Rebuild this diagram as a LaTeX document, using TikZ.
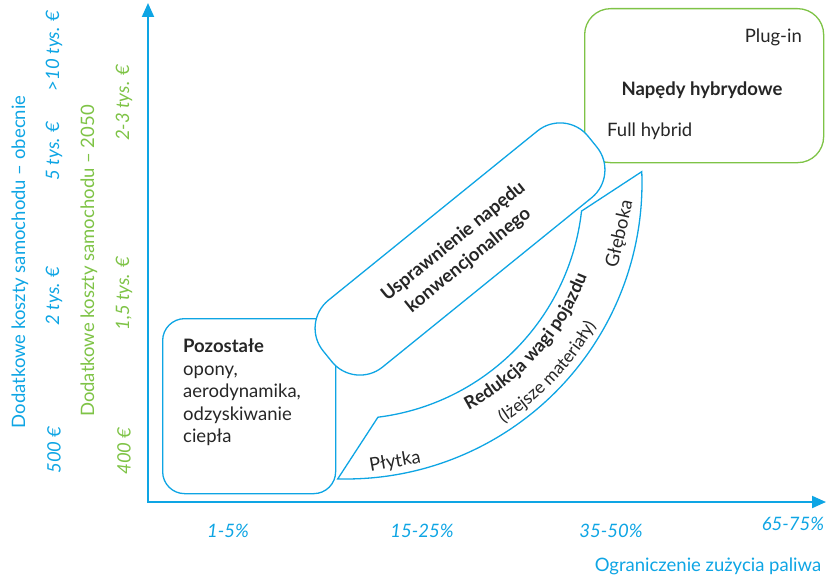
\documentclass[tikz,border=0pt]{standalone}
\usepackage{fontspec}
\setmainfont{Lato}
\usetikzlibrary{arrows.meta,decorations.text}
\definecolor{cblue}{RGB}{14,165,228}
\definecolor{cgreen}{RGB}{126,195,70}
\definecolor{ctext}{RGB}{38,38,38}
\begin{document}
\begin{tikzpicture}[x=1pt,y=1pt,
  lbl/.style={font=\fontsize{18.5}{22.5}\selectfont, text=ctext, inner sep=0pt},
  blbl/.style={lbl, font=\fontsize{18.5}{24}\selectfont\bfseries},
  bluelbl/.style={lbl, text=cblue},
  greenlbl/.style={lbl, text=cgreen},
  bval/.style={bluelbl, font=\fontsize{18.5}{22}\selectfont\itshape},
  gval/.style={greenlbl, font=\fontsize{18.5}{22}\selectfont\itshape},
  bshape/.style={draw=cblue, line width=1.3pt, fill=white},
  gshape/.style={draw=cgreen, line width=1.3pt, fill=white},
  axisline/.style={draw=cblue, line width=2pt, {Triangle[length=14pt,width=12pt]}-{Triangle[length=14pt,width=12pt]}},
  arctext/.style={decorate, decoration={text along path, text align=center, text={#1}}}
]
\useasboundingbox (0,0) rectangle (826,-578);

% axes
\coordinate (ytop) at (148,-3);
\coordinate (O) at (148,-502);
\coordinate (xend) at (826,-502);
\draw[axisline] (ytop) -- (O) -- (xend);

% hybrid box
\node[gshape, rounded corners=26pt, minimum width=239pt, minimum height=154pt, anchor=north west, inner sep=0pt] (hyb) at (584,-8) {};
\node[lbl, anchor=base east] (plug) at (802,-43) {Plug-in};
\node[blbl, anchor=base] (hybt) at (702,-95) {Napędy hybrydowe};
\node[lbl, anchor=base west] (full) at (607,-136) {Full hybrid};

% other measures box
\node[bshape, rounded corners=22pt, minimum width=173pt, minimum height=175pt, anchor=north west, inner sep=0pt] (poz) at (162,-318) {};
\node[lbl, anchor=north west, align=left] (pozt) at (183,-339) {\textbf{Pozostałe}\\opony,\\aerodynamika,\\odzyskiwanie\\ciepła};

% weight reduction band
\coordinate (oc) at (346,-183);
\coordinate (ic) at (349,-185);
\draw[bshape] ([shift={(oc)}]-91.6:296) arc[start angle=-91.6, end angle=2.2, radius=296]
  -- ([shift={(ic)}]-6.4:234) arc[start angle=-6.4, end angle=-82.9, radius=234] -- cycle;
\path[arctext={|\fontsize{18}{22}\selectfont\bfseries\color{ctext}|Redukcja wagi pojazdu}]
  ([shift={(ic)}]-76.5:255) arc[start angle=-76.5, end angle=-6.5, radius=255];
\path[arctext={|\fontsize{17.5}{22}\selectfont\color{ctext}|(lżejsze materiały)}]
  ([shift={(ic)}]-78:284) arc[start angle=-78, end angle=-8.6, radius=284];
\node[lbl, rotate=10] (ply) at (395,-462) {Płytka};
\node[lbl, rotate=77] (gle) at (620,-234) {Głęboka};

% conventional drive box
\node[bshape, rounded corners=36pt, minimum width=341pt, minimum height=86pt, rotate=39, inner sep=0pt] (usp) at (460,-249) {};
\node[blbl, rotate=39, align=center] (uspt) at (461,-251) {Usprawnienie napędu\\konwencjonalnego};

% x axis labels
\node[bval] (x1) at (228,-531) {1-5\%};
\node[bval] (x2) at (422,-531) {15-25\%};
\node[bval] (x3) at (611,-531) {35-50\%};
\node[bval] (x4) at (793,-524) {65-75\%};
\node[bluelbl] (xt) at (708,-566) {Ograniczenie zużycia paliwa};

% y axis labels
\node[bluelbl, rotate=90] (yt1) at (20,-262) {Dodatkowe koszty samochodu – obecnie};
\node[greenlbl, rotate=90] (yt2) at (89,-261) {Dodatkowe koszty samochodu – 2050};
\node[bval, rotate=90] (b1) at (54,-51) {>10 tys. €};
\node[bval, rotate=90] (b2) at (54,-151) {5 tys. €};
\node[bval, rotate=90] (b3) at (54,-296) {2 tys. €};
\node[bval, rotate=90] (b4) at (54,-450) {500 €};
\node[gval, rotate=90] (g1) at (124,-103) {2-3 tys. €};
\node[gval, rotate=90] (g2) at (124,-294) {1,5 tys. €};
\node[gval, rotate=90] (g3) at (124,-451) {400 €};
\end{tikzpicture}
\end{document}
